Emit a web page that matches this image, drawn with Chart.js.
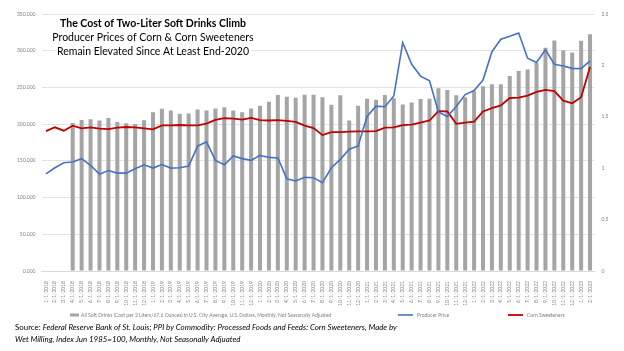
<!DOCTYPE html>
<html>
<head>
<meta charset="utf-8">
<script src="https://cdn.jsdelivr.net/npm/chart.js@4.4.0/dist/chart.umd.min.js"></script>
<style>
  html, body { margin: 0; padding: 0; background: #fff; }
  #wrap { position: relative; width: 624px; height: 351px; }
</style>
</head>
<body>
<div id="wrap"><canvas id="chart"></canvas></div>
<script>
// Soft drink cost vs corn / corn sweetener producer prices, Jan 2018 - Feb 2023

const MONTHS = [];
for (let y = 2018; y <= 2023; y++) {
  for (let m = 1; m <= 12; m++) {
    if (y === 2023 && m > 2) break;
    MONTHS.push(`${m}/1/${y}`);
  }
}

// bars, left axis
const softDrinks = [
  null, null, null, 201.5, 205.6, 206.6, 204.8, 208.4, 202.9, 201.1, 200.1, 205.2,
  216.3, 220.8, 218.6, 214.0, 214.5, 220.0, 218.6, 221.3, 223.1, 218.6, 216.3, 221.3,
  225.0, 230.4, 239.7, 237.3, 236.0, 240.1, 240.1, 236.5, 226.3, 239.3, 204.8, 224.9,
  234.6, 233.2, 239.7, 235.1, 226.9, 229.6, 234.2, 234.6, 248.9, 246.6, 239.3, 236.5,
  244.8, 251.7, 254.4, 254.4, 265.4, 272.3, 274.5, 283.3, 304.0, 314.0, 300.7, 297.5,
  313.6, 322.3,
];

// lines, right axis
const producerPrice = [
  0.945, 1.004, 1.053, 1.060, 1.093, 1.027, 0.942, 0.977, 0.952, 0.952, 0.994, 1.033,
  1.001, 1.036, 1.001, 1.004, 1.021, 1.214, 1.257, 1.076, 1.033, 1.119, 1.093, 1.076,
  1.125, 1.105, 1.099, 0.896, 0.876, 0.912, 0.907, 0.859, 1.004, 1.086, 1.184, 1.217,
  1.503, 1.604, 1.598, 1.703, 2.221, 2.011, 1.896, 1.850, 1.548, 1.503, 1.600, 1.716,
  1.755, 1.857, 2.133, 2.254, 2.283, 2.316, 2.070, 2.028, 2.152, 2.011, 1.995, 1.971,
  1.969, 2.044,
];

const cornSweeteners = [
  1.361, 1.398, 1.365, 1.414, 1.388, 1.398, 1.385, 1.381, 1.395, 1.401, 1.398, 1.388,
  1.378, 1.417, 1.417, 1.420, 1.417, 1.417, 1.434, 1.469, 1.486, 1.483, 1.473, 1.489,
  1.467, 1.464, 1.467, 1.460, 1.450, 1.414, 1.390, 1.322, 1.351, 1.351, 1.355, 1.358,
  1.358, 1.361, 1.395, 1.398, 1.420, 1.424, 1.444, 1.464, 1.555, 1.552, 1.432, 1.444,
  1.454, 1.552, 1.585, 1.611, 1.683, 1.686, 1.706, 1.742, 1.762, 1.749, 1.657, 1.631,
  1.690, 1.985,
];

const TITLE_LINES = [
  { text: "The Cost of Two-Liter Soft Drinks Climb", font: "bold 10.5px Lato" },
  { text: "Producer Prices of Corn & Corn Sweeteners", font: "10.5px Lato" },
  { text: "Remain Elevated Since At Least End-2020", font: "10.5px Lato" },
];

const SOURCE_LABEL = "Source: ";
const SOURCE_LINES = [
  "Federal Reserve Bank of St. Louis; PPI by Commodity: Processed Foods and Feeds: Corn Sweeteners, Made by",
  "Wet Milling, Index Jun 1985=100, Monthly, Not Seasonally Adjuated",
];

// legend slots: where each item starts, left to right
const LEGEND_X = [70, 398, 508];
const LEGEND_Y = 315;

const TICK_COLOR = "#7f7f7f";
const GRID_COLOR = "#e3e3e3";

// ── title, legend, source ─────────────────────────────────────────────────
const overlayText = {
  id: "overlayText",
  afterDraw(chart) {
    const c = chart.ctx;
    c.save();
    c.textAlign = "center";
    c.textBaseline = "middle";
    TITLE_LINES.forEach((ln, i) => {
      const y = 24 + i * 14;
      c.font = ln.font;
      const w = c.measureText(ln.text).width;
      c.fillStyle = "#fff";
      c.fillRect(153 - w / 2 - 2, y - 5, w + 4, 10);
      c.fillStyle = "#000";
      c.fillText(ln.text, 153, y);
    });

    // legend
    c.textAlign = "left";
    c.font = "5px Lato";
    chart.data.datasets.forEach((ds, i) => {
      const x = LEGEND_X[i];
      if (ds.type === "line") {
        c.strokeStyle = ds.borderColor;
        c.lineWidth = ds.borderWidth;
        c.beginPath();
        c.moveTo(x, LEGEND_Y);
        c.lineTo(x + 15, LEGEND_Y);
        c.stroke();
        c.fillStyle = TICK_COLOR;
        c.fillText(ds.label, x + 19, LEGEND_Y);
      } else {
        c.fillStyle = ds.backgroundColor;
        c.fillRect(x, LEGEND_Y - 1.5, 9, 3);
        c.fillStyle = TICK_COLOR;
        c.fillText(ds.label, x + 11, LEGEND_Y);
      }
    });

    c.font = "7.9px Lato";
    c.fillStyle = "#000";
    c.fillText(SOURCE_LABEL, 15, 327);
    const lw = c.measureText(SOURCE_LABEL).width;
    c.font = "italic 7.9px Lato";
    c.fillText(SOURCE_LINES[0], 15 + lw, 327);
    c.fillText(SOURCE_LINES[1], 15, 339);
    c.restore();
  },
};

new Chart(document.getElementById("chart"), {
  type: "bar",
  data: {
    labels: MONTHS,
    datasets: [
      {
        label: "All Soft Drinks (Cost per 2 Liters/67.6 Ounces) in U.S. City Average, U.S. Dollars, Monthly, Not Seasonally Adjusted",
        data: softDrinks,
        backgroundColor: "#a5a5a5",
        borderWidth: 0,
        barPercentage: 0.45,
        categoryPercentage: 1,
        yAxisID: "y",
        order: 1,
      },
      {
        type: "line",
        label: "Producer Price",
        data: producerPrice,
        borderColor: "#4472c4",
        backgroundColor: "#4472c4",
        borderWidth: 1.6,
        pointRadius: 0,
        tension: 0,
        yAxisID: "y1",
        order: 0,
      },
      {
        type: "line",
        label: "Corn Sweeteners",
        data: cornSweeteners,
        borderColor: "#c00000",
        backgroundColor: "#c00000",
        borderWidth: 1.8,
        pointRadius: 0,
        tension: 0,
        yAxisID: "y1",
        order: 0,
      },
    ],
  },
  options: {
    responsive: true,
    maintainAspectRatio: false,
    animation: false,
    layout: { padding: { top: 14, right: 0, left: 0, bottom: 44 } },
    plugins: {
      legend: { display: false },
      tooltip: { enabled: false },
    },
    scales: {
      x: {
        grid: { display: false },
        border: { color: "#d9d9d9" },
        ticks: {
          color: TICK_COLOR,
          font: { size: 5, family: "Lato" },
          autoSkip: false,
          maxRotation: 90,
          minRotation: 90,
          padding: 2,
        },
        afterFit: s => { s.height = 36; },
      },
      y: {
        position: "left",
        min: 0,
        max: 350,
        border: { display: false },
        grid: { color: GRID_COLOR, drawTicks: false },
        ticks: {
          stepSize: 50,
          color: TICK_COLOR,
          font: { size: 5, family: "Lato" },
          padding: 6,
          callback: v => v.toFixed(3),
        },
        afterFit: s => { s.width = 41.5; },
      },
      y1: {
        position: "right",
        min: 0,
        max: 2.5,
        border: { display: false },
        grid: { display: false, drawTicks: false },
        ticks: {
          stepSize: 0.5,
          color: TICK_COLOR,
          font: { size: 5, family: "Lato" },
          padding: 7,
          callback: v => String(v),
        },
        afterFit: s => { s.width = 29.5; },
      },
    },
  },
  plugins: [overlayText],
});
</script>
</body>
</html>
